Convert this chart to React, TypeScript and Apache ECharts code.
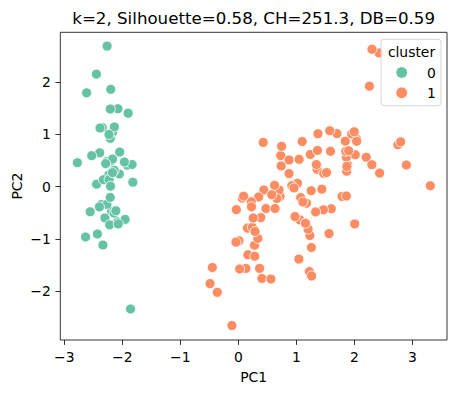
import React, { useEffect, useRef } from "react";
import * as echarts from "echarts";

const PC1 = [
  -2.2647, -2.081, -2.3642, -2.2994, -2.3898, -2.0756, -2.444, -2.2328, -2.3346, -2.1843,
  -2.1663, -2.3261, -2.2185, -2.6331, -2.1987, -2.2622, -2.2076, -2.1904, -1.8986, -2.3434,
  -1.9143, -2.207, -2.7743, -1.8187, -2.2272, -1.9518, -2.0512, -2.1686, -2.1396, -2.2653,
  -2.1401, -1.8316, -2.6149, -2.4462, -2.11, -2.2078, -2.0451, -2.5273, -2.4296, -2.1697,
  -2.2865, -1.8581, -2.5536, -1.9644, -2.1371, -2.0697, -2.3847, -2.3944, -2.2294, -2.2038,
  1.1018, 0.7313, 1.241, 0.4075, 1.0755, 0.3887, 0.7465, -0.4873, 0.9279, 0.0114,
  -0.1102, 0.4407, 0.5621, 0.7196, -0.0334, 0.8755, 0.3503, 0.1588, 1.2251, 0.1649,
  0.7377, 0.4763, 1.2341, 0.6329, 0.7027, 0.8743, 1.2565, 1.3584, 0.6648, -0.0403,
  0.1308, 0.0235, 0.2415, 1.0611, 0.224, 0.4291, 1.0487, 1.0445, 0.0696, 0.2835,
  0.2791, 0.6246, 0.3364, -0.3622, 0.2886, 0.0914, 0.2277, 0.5764, -0.4477, 0.2567,
  1.8446, 1.1579, 2.2053, 1.4402, 1.8678, 2.7519, 0.3669, 2.3024, 2.0067, 2.2598,
  1.3642, 1.6027, 1.8839, 1.2605, 1.4676, 1.5901, 1.4714, 2.4263, 3.3107, 1.2638,
  2.0377, 0.978, 2.8977, 1.3332, 1.7007, 1.9543, 1.1751, 1.021, 1.7883, 1.8636,
  2.436, 2.3049, 1.8627, 1.1143, 1.203, 2.7988, 1.5763, 1.3463, 0.9234, 1.8536,
  2.0162, 1.9018, 1.1579, 2.0406, 1.9981, 1.8705, 1.5646, 1.5212, 1.3728, 0.9607,
];

const PC2 = [
  0.48, -0.6741, -0.3419, -0.5974, 0.6468, 1.4892, 0.0476, 0.2231, -1.1153, -0.469,
  1.0437, 0.1331, -0.7287, -0.9615, 1.8601, 2.6863, 1.4836, 0.4888, 1.405, 1.1278,
  0.4089, 0.9241, 0.4583, 0.0856, 0.1373, -0.6256, 0.2422, 0.5272, 0.3132, -0.3377,
  -0.5045, 0.4237, 1.7936, 2.1507, -0.4602, -0.2061, 0.6616, 0.5923, -0.9042, 0.2689,
  0.4417, -2.3374, -0.4791, 0.4723, 1.1422, -0.7111, 1.1204, -0.3862, 0.998, 0.0092,
  0.863, 0.5946, 0.6163, -1.7544, -0.2084, -0.5913, 0.7704, -1.8524, 0.0322, -1.034,
  -2.6541, -0.0633, -1.7647, -0.1862, -0.439, 0.51, -0.1963, -0.7921, -1.6224, -1.3026,
  0.3966, -0.4173, -0.9333, -0.4164, -0.0634, 0.2508, -0.0773, 0.3313, -0.2259, -1.0587,
  -1.5623, -1.5725, -0.7773, -0.6338, -0.2878, 0.8456, 0.5221, -1.383, -0.2195, -1.3293,
  -1.12, 0.0249, -0.9884, -2.0192, -0.8557, -0.1812, -0.3849, -0.1549, -1.5438, -0.5989,
  0.8704, -0.6989, 0.562, -0.047, 0.295, 0.8004, -1.5615, 0.4201, -0.7114, 1.921,
  0.6928, -0.4217, 0.4193, -1.1622, -0.4423, 0.6762, 0.2556, 2.5567, 0.0178, -1.7067,
  0.9105, -0.5718, 0.4136, -0.4818, 1.0139, 1.0078, -0.3164, 0.0643, -0.1874, 0.5623,
  0.2593, 2.6263, -0.1785, -0.2929, -0.8113, 0.8568, 1.0686, 0.4224, 0.0172, 0.6754,
  0.6104, 0.686, -0.6989, 0.8675, 1.0492, 0.387, -0.8967, 0.2691, 1.0113, -0.0243,
];

const CLUSTER = PC1.map((_, i) => (i < 50 ? 0 : 1));

const CLUSTER_NAMES = ["0", "1"];
const COLORS = ["#66c2a5", "#fc8d62"];
const X_TICKS = [-3, -2, -1, 0, 1, 2, 3];
const Y_TICKS = [-2, -1, 0, 1, 2];
const TITLE = "k=2, Silhouette=0.58, CH=251.3, DB=0.59";

const FONT = "DejaVu Sans, sans-serif";
const fmt = (v: number) => (v < 0 ? "\u2212" + Math.abs(v) : String(v));

export default function App() {
  const ref = useRef<HTMLDivElement>(null);
  useEffect(() => {
    if (!ref.current) return;
    const chart = echarts.init(ref.current, undefined, { renderer: "svg" });
    const gl = 60.3, gt = 32.3, gr = 447, gb = 340;
    const series = CLUSTER_NAMES.map((name, c) => ({
      type: "scatter" as const,
      name,
      data: PC1.map((x, i) => [x, PC2[i], CLUSTER[i]]).filter((d) => d[2] === c).map((d) => [d[0], d[1]]),
      symbolSize: 10,
      itemStyle: { color: COLORS[c], borderColor: "#ffffff", borderWidth: 0.8, opacity: 1 },
      emphasis: { disabled: true },
    }));
    const lx = 381, ly = 39.3, lw = 60, lh = 66.4;
    const legendEls: any[] = [
      {
        type: "rect",
        shape: { x: lx, y: ly, width: lw, height: lh, r: 3 },
        style: { fill: "rgba(255,255,255,0.8)", stroke: "#cccccc", lineWidth: 0.8 },
        z: 100,
      },
      {
        type: "text",
        x: 411.5,
        y: 52,
        style: { text: "cluster", font: `13.9px ${FONT}`, fill: "#000", align: "center", verticalAlign: "middle", textAlign: "center", textVerticalAlign: "middle" },
        z: 101,
      },
    ];
    CLUSTER_NAMES.forEach((name, c) => {
      const yy = 72.5 + c * 20.3;
      legendEls.push({
        type: "circle",
        shape: { cx: 401.7, cy: yy, r: 5.8 },
        style: { fill: COLORS[c], stroke: "#fff", lineWidth: 0.8 },
        z: 101,
      });
      legendEls.push({
        type: "text",
        x: 431.3,
        y: yy,
        style: { text: name, font: `13.9px ${FONT}`, fill: "#000", align: "center", verticalAlign: "middle", textAlign: "center", textVerticalAlign: "middle" },
        z: 101,
      });
    });
    chart.setOption({
      animation: false,
      grid: {
        left: gl,
        top: gt,
        width: gr - gl,
        height: gb - gt,
        show: true,
        borderColor: "#000",
        borderWidth: 0.8,
        backgroundColor: "transparent",
      },
      xAxis: {
        type: "value",
        min: -3.069,
        max: 3.598,
        splitLine: { show: false },
        axisLine: { show: false, onZero: false },
        axisTick: { show: true, length: 4.9, lineStyle: { color: "#000", width: 0.8 }, customValues: X_TICKS },
        axisLabel: { customValues: X_TICKS, formatter: fmt, margin: 9.5, color: "#000", fontSize: 13.9, fontFamily: FONT },
      },
      yAxis: {
        type: "value",
        min: -2.93,
        max: 2.95,
        splitLine: { show: false },
        axisLine: { show: false, onZero: false },
        axisTick: { show: true, length: 4.9, lineStyle: { color: "#000", width: 0.8 }, customValues: Y_TICKS },
        axisLabel: { customValues: Y_TICKS, formatter: fmt, margin: 9.5, color: "#000", fontSize: 13.9, fontFamily: FONT },
      },
      series,
      graphic: [
        {
          type: "text",
          x: (gl + gr) / 2,
          y: 18.5,
          style: { text: TITLE, font: `16.67px ${FONT}`, fill: "#000", align: "center", verticalAlign: "middle", textAlign: "center", textVerticalAlign: "middle" },
        },
        {
          type: "text",
          x: (gl + gr) / 2,
          y: 376.5,
          style: { text: "PC1", font: `13.9px ${FONT}`, fill: "#000", align: "center", verticalAlign: "middle", textAlign: "center", textVerticalAlign: "middle" },
        },
        {
          type: "text",
          x: 16.5,
          y: (gt + gb) / 2,
          rotation: Math.PI / 2,
          style: { text: "PC2", font: `13.9px ${FONT}`, fill: "#000", align: "center", verticalAlign: "middle", textAlign: "center", textVerticalAlign: "middle" },
        },
        ...legendEls,
      ],
    });
    return () => chart.dispose();
  }, []);
  return <div ref={ref} style={{ position: "fixed", left: 0, top: 0, width: 457, height: 393, background: "#fff" }} />;
}
